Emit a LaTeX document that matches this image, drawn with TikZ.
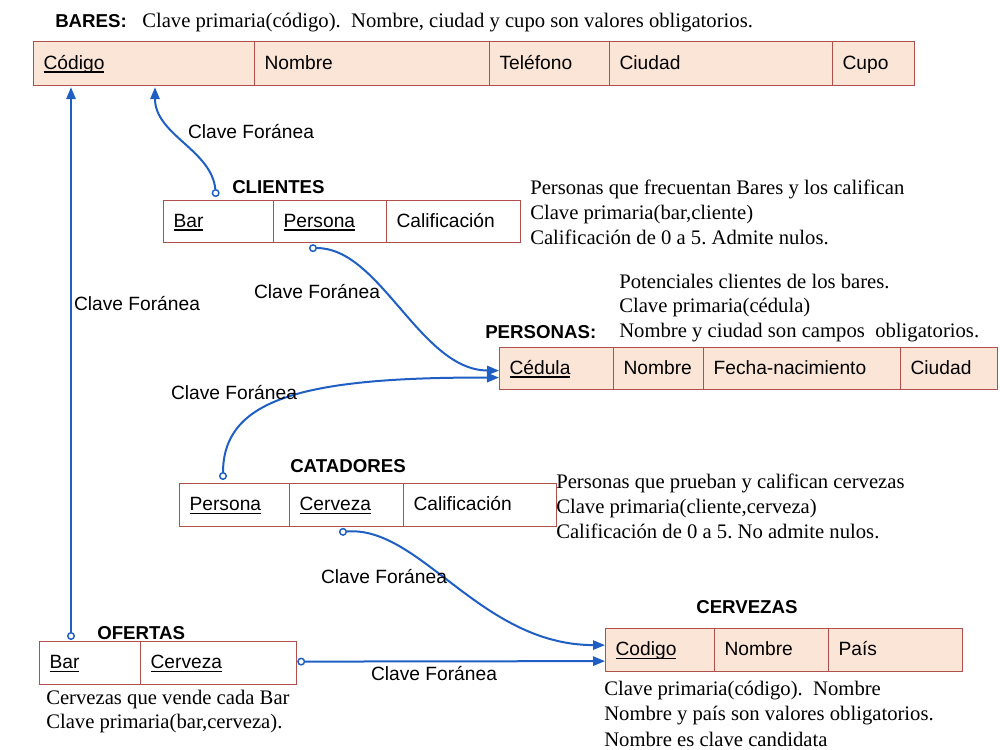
\documentclass[tikz,border=0pt]{standalone}
\usepackage{fontspec}
\setmainfont{Liberation Serif}
\newfontfamily\arialf{Liberation Sans}
\usetikzlibrary{arrows.meta,calc}
\definecolor{peach}{HTML}{FBE5D6}
\definecolor{cellred}{HTML}{B0504C}
\definecolor{fkblue}{HTML}{1F5FC4}
\newlength\keyw
\newcommand\keyu[1]{\settowidth\keyw{#1}\rlap{\rule[-2.6pt]{\keyw}{1.1pt}}#1}
\frenchspacing
\begin{document}
\begin{tikzpicture}[x=0.75pt,y=-0.75pt,
  cell/.style={draw=cellred, line width=0.9pt, anchor=north west, inner xsep=7.5pt, inner ysep=0pt,
    align=left, font=\arialf\fontsize{14.4}{17}\selectfont, text height=11pt, text depth=2.5pt},
  peachcell/.style={cell, fill=peach},
  ttl/.style={anchor=base west, inner sep=0pt, font=\arialf\bfseries\fontsize{14}{17}\selectfont},
  desc/.style={anchor=base west, inner sep=0pt, font=\fontsize{15.5}{18}\selectfont},
  fklabel/.style={font=\arialf\fontsize{14.4}{17}\selectfont, inner sep=1pt},
  fk/.style={draw=fkblue, line width=1.5pt, {Circle[open,length=6pt,line width=1.1pt]}-{Triangle[length=9pt,width=7pt]}}
]
\useasboundingbox (0,0) rectangle (1000,750);

% BARES
\node[ttl] (tbares) at (55,27) {BARES:};
\node[desc] (dbares) at (142,27) {Clave primaria(código).~ Nombre, ciudad y cupo son valores obligatorios.};
\node[peachcell, minimum height=33pt, text width=150.75pt] (bcod) at (33,41) {\keyu{Código}};
\node[peachcell, minimum height=33pt, text width=161.25pt] (bnom) at (254,41) {Nombre};
\node[peachcell, minimum height=33pt, text width=75pt] (btel) at (489,41) {Teléfono};
\node[peachcell, minimum height=33pt, text width=152.25pt] (bciu) at (609,41) {Ciudad};
\node[peachcell, minimum height=33pt, text width=46.5pt] (bcup) at (832,41) {Cupo};

% CLIENTES
\node[ttl] (tclientes) at (232,193) {CLIENTES};
\node[cell, minimum height=31.5pt, text width=67.5pt] (cbar) at (163,200) {\keyu{Bar}};
\node[cell, minimum height=31.5pt, text width=69.75pt] (cper) at (273,200) {\keyu{Persona}};
\node[cell, minimum height=31.5pt, text width=85.5pt] (ccal) at (386,200) {Calificación};
\node[desc] (dcl1) at (530,194) {Personas que frecuentan Bares y los califican};
\node[desc] (dcl2) at (530,219) {Clave primaria(bar,cliente)};
\node[desc] (dcl3) at (530,244) {Calificación de 0 a 5. Admite nulos.};

% PERSONAS
\node[desc] (dpe1) at (619,288) {Potenciales clientes de los bares.};
\node[desc] (dpe2) at (619,312) {Clave primaria(cédula)};
\node[desc] (dpe3) at (619,337) {Nombre y ciudad son campos~ obligatorios.};
\node[ttl] (tpersonas) at (485,338) {PERSONAS:};
\node[peachcell, minimum height=31.5pt, text width=70.5pt] (pced) at (499,347) {\keyu{Cédula}};
\node[peachcell, minimum height=31.5pt, text width=52.5pt] (pnom) at (613,347) {Nombre};
\node[peachcell, minimum height=31.5pt, text width=132.75pt] (pfec) at (703,347) {Fecha-nacimiento};
\node[peachcell, minimum height=31.5pt, text width=57.75pt] (pciu) at (900,347) {Ciudad};

% CATADORES
\node[ttl] (tcatadores) at (290,472) {CATADORES};
\node[cell, minimum height=32.25pt, text width=67.5pt] (kper) at (179,483) {\keyu{Persona}};
\node[cell, minimum height=32.25pt, text width=70.5pt] (kcer) at (289,483) {\keyu{Cerveza}};
\node[cell, minimum height=32.25pt, text width=99.75pt] (kcal) at (403,483) {Calificación};
\node[desc] (dca1) at (556,488) {Personas que prueban y califican cervezas};
\node[desc] (dca2) at (556,513) {Clave primaria(cliente,cerveza)};
\node[desc] (dca3) at (556,538) {Calificación de 0 a 5. No admite nulos.};

% CERVEZAS
\node[ttl] (tcervezas) at (696,613) {CERVEZAS};
\node[peachcell, minimum height=32.25pt, text width=66.75pt] (vcod) at (605,628) {\keyu{Codigo}};
\node[peachcell, minimum height=32.25pt, text width=70.5pt] (vnom) at (714,628) {Nombre};
\node[peachcell, minimum height=32.25pt, text width=85.5pt] (vpai) at (828,628) {País};
\node[desc] (dce1) at (604,695) {Clave primaria(código).~ Nombre};
\node[desc] (dce2) at (604,720) {Nombre y país son valores obligatorios.};
\node[desc] (dce3) at (604,746) {Nombre es clave candidata};

% OFERTAS
\node[ttl] (tofertas) at (97,639) {OFERTAS};
\node[cell, minimum height=32.25pt, text width=60.75pt] (obar) at (39,641) {\keyu{Bar}};
\node[cell, minimum height=32.25pt, text width=102pt] (ocer) at (140,641) {\keyu{Cerveza}};
\node[desc] (dof1) at (46,704) {Cervezas que vende cada Bar};
\node[desc] (dof2) at (46,728) {Clave primaria(bar,cerveza).};

% foreign keys
\coordinate (s1) at ($(cbar.north west)+(53,-3)$);
\coordinate (e1) at ($(bcod.south west)+(122,1)$);
\draw[fk] (s1) .. controls (212,150) and (155,135) .. (e1);
\node[fklabel] (l1) at (251,132) {Clave Foránea};

\coordinate (s2) at ($(obar.north west)+(32,-1)$);
\coordinate (e2) at ($(bcod.south west)+(38,1)$);
\draw[fk] (s2) -- (e2);
\node[fklabel] (l2) at (137,304) {Clave Foránea};

\coordinate (s3) at ($(cper.south west)+(36,5)$);
\coordinate (e3) at ($(pced.west)+(0,2)$);
\draw[fk] (s3) .. controls (380,247) and (420,370) .. (e3);
\node[fklabel] (l3) at (317,292) {Clave Foránea};

\coordinate (s4) at ($(kper.north west)+(44,-3)$);
\coordinate (e4) at ($(pced.west)+(0,9)$);
\draw[fk] (s4) .. controls (223,400) and (300,377) .. (e4);
\node[fklabel] (l4) at (234,393) {Clave Foránea};

\coordinate (s5) at ($(kcer.south west)+(50,5)$);
\coordinate (e5) at ($(vcod.west)+(0,-5)$);
\draw[fk] (s5) .. controls (420,525) and (480,645) .. (e5);
\node[fklabel] (l5) at (384,577) {Clave Foránea};

\coordinate (s6) at ($(ocer.east)+(0,-1.5)$);
\coordinate (e6) at ($(vcod.west)+(0,11)$);
\draw[fk] (s6) -- (e6);
\node[fklabel] (l6) at (434,674) {Clave Foránea};
\end{tikzpicture}
\end{document}
